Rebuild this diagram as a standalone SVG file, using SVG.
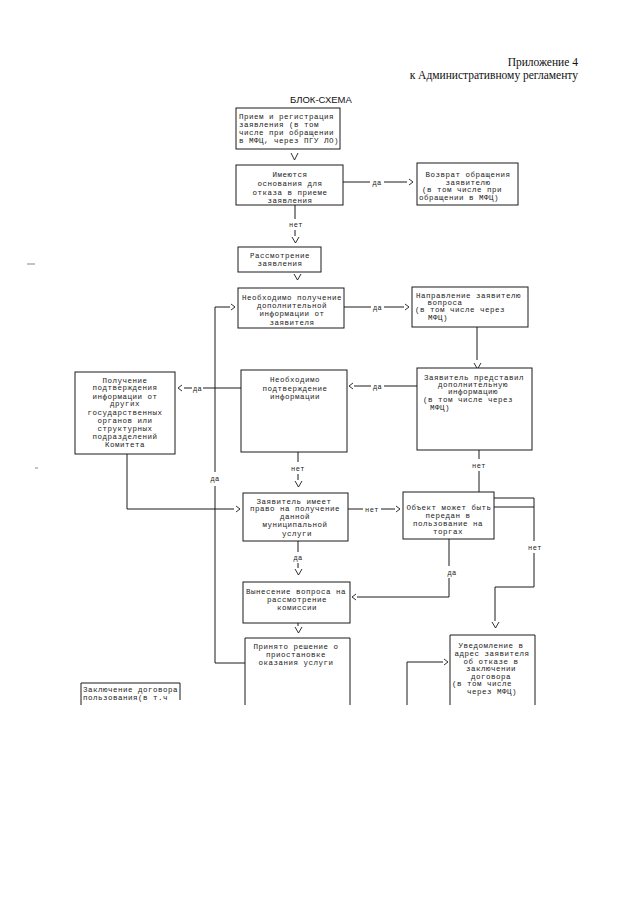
<svg xmlns="http://www.w3.org/2000/svg" width="640" height="905" viewBox="0 0 640 905">
<style>
.bg{fill:#fff}
.box{fill:#fff;stroke:#1a1a1a;stroke-width:1}
.open{fill:none;stroke:#1a1a1a;stroke-width:1}
.ln{fill:none;stroke:#1a1a1a;stroke-width:1}
.ah{fill:none;stroke:#1a1a1a;stroke-width:0.9}
.t{font-family:"Liberation Mono","DejaVu Sans Mono",monospace;font-size:7.5px;letter-spacing:0.5px;fill:#222}
.c{text-anchor:middle}
.lb{font-family:"Liberation Mono","DejaVu Sans Mono",monospace;font-size:7px;letter-spacing:0.4px;fill:#222;text-anchor:middle}
.hd{font-family:"Liberation Serif","Times New Roman",serif;font-size:11.5px;fill:#111;text-anchor:end}
.ttl{font-family:"Liberation Sans",Arial,sans-serif;font-size:9.5px;fill:#111}
.mark{stroke:#888;stroke-width:1}
</style>
<rect class="bg" x="0" y="0" width="640" height="905"/>
<g id="header">
<text class="hd" x="578" y="66">Приложение 4</text>
<text class="hd" x="578" y="79">к Административному регламенту</text>
<text class="ttl" x="290" y="103">БЛОК-СХЕМА</text>
</g>
<g id="marks">
<line class="mark" x1="27" y1="264" x2="35" y2="264"/>
<line class="mark" x1="35" y1="468" x2="38" y2="468"/>
</g>
<g id="connectors">
<path class="ah" d="M291,153 L294.5,160 L298,153"/>
<path class="ln" d="M343,182 H370 M384,182 H407"/>
<path class="ah" d="M409,179 L413,182 L409,185"/>
<text class="lb" x="377" y="184.5">да</text>
<path class="ln" d="M295,205 V219 M295,230 V236"/>
<text class="lb" x="296" y="226.5">нет</text>
<path class="ah" d="M292,237 L295.5,243 L299,237"/>
<path class="ah" d="M294,274 L297.5,280 L301,274"/>
<path class="ln" d="M230,307 H215 V472 M215,486 V663 H245"/>
<path class="ah" d="M231,304 L235,307 L231,310"/>
<text class="lb" x="215" y="480.5">да</text>
<path class="ln" d="M344,307 H371 M384,307 H404"/>
<path class="ah" d="M405,304 L409,307 L405,310"/>
<text class="lb" x="377.5" y="309.5">да</text>
<path class="ln" d="M477,327 V360"/>
<path class="ah" d="M474,363 L477.5,369 L481,363"/>
<path class="ln" d="M417,386 H384 M371,386 H354"/>
<path class="ah" d="M353,383 L349,386 L353,389"/>
<text class="lb" x="377.5" y="388.5">да</text>
<path class="ln" d="M241,388 H203 M192,388 H184"/>
<path class="ah" d="M182,385 L178,388 L182,391"/>
<text class="lb" x="197.5" y="390.5">да</text>
<path class="ln" d="M127,454 V509 H234"/>
<path class="ah" d="M236,506 L240,509 L236,512"/>
<path class="ln" d="M298,452 V462 M298,474 V480"/>
<text class="lb" x="298" y="470.5">нет</text>
<path class="ah" d="M295,481 L298.5,487 L302,481"/>
<path class="ln" d="M348,509 H363 M381,509 H395"/>
<path class="ah" d="M396,506 L400,509 L396,512"/>
<text class="lb" x="372" y="511.5">нет</text>
<path class="ln" d="M479,450 V459 M479,471 V498 H534 V541 M534,553 V587 H495 V621"/>
<text class="lb" x="479" y="467.5">нет</text>
<text class="lb" x="535" y="549.5">нет</text>
<path class="ah" d="M492,622 L495.5,628 L499,622"/>
<path class="ln" d="M494,507 H534"/>
<path class="ln" d="M449,539 V566 M449,578 V597 H357"/>
<text class="lb" x="452" y="574.5">да</text>
<path class="ah" d="M356,594 L352,597 L356,600"/>
<path class="ln" d="M298,541 V552 M298,563 V568"/>
<text class="lb" x="298" y="559.5">да</text>
<path class="ah" d="M295,569 L298.5,575 L302,569"/>
<path class="ln" d="M298,623 V626"/>
<path class="ah" d="M295,627 L298.5,633 L302,627"/>
<path class="ln" d="M407,705 V662 H443"/>
<path class="ah" d="M444,659 L448,662 L444,665"/>
</g>
<g id="n1">
<rect class="box" x="236" y="108" width="104" height="41"/>
<text class="t" x="239"><tspan x="239" y="119">Прием и регистрация</tspan><tspan x="239" y="127">заявления (в том</tspan><tspan x="239" y="135">числе при обращении</tspan><tspan x="239" y="142.5">в МФЦ, через ПГУ ЛО)</tspan></text>
</g>
<g id="n2">
<rect class="box" x="236" y="165" width="107" height="40"/>
<text class="t c"><tspan x="290" y="177">Имеются</tspan><tspan x="290" y="186">основания для</tspan><tspan x="290" y="194.5">отказа в приеме</tspan><tspan x="290" y="203">заявления</tspan></text>
</g>
<g id="n3">
<rect class="box" x="417" y="163" width="101" height="42"/>
<text class="t"><tspan x="468" y="176.5" text-anchor="middle">Возврат обращения</tspan><tspan x="468" y="184.5" text-anchor="middle">заявителю</tspan><tspan x="422" y="191.5">(в том числе при</tspan><tspan x="419" y="199.5">обращении в МФЦ)</tspan></text>
</g>
<g id="n4">
<rect class="box" x="238" y="247" width="83" height="25"/>
<text class="t c"><tspan x="280" y="257.5">Рассмотрение</tspan><tspan x="280" y="265.5">заявления</tspan></text>
</g>
<g id="n5">
<rect class="box" x="238" y="288" width="106" height="40"/>
<text class="t c"><tspan x="292" y="299.5">Необходимо получение</tspan><tspan x="292" y="307.5">дополнительной</tspan><tspan x="292" y="315.5">информации от</tspan><tspan x="292" y="324.5">заявителя</tspan></text>
</g>
<g id="n6">
<rect class="box" x="412" y="287" width="116" height="40"/>
<text class="t"><tspan x="416" y="297.5">Направление заявителю</tspan><tspan x="445" y="304.5" text-anchor="middle">вопроса</tspan><tspan x="415" y="311.5">(в том числе через</tspan><tspan x="428" y="319.5">МФЦ)</tspan></text>
</g>
<g id="n7">
<rect class="box" x="417" y="368" width="115" height="82"/>
<text class="t"><tspan x="424" y="379.5">Заявитель представил</tspan><tspan x="473" y="386.5" text-anchor="middle">дополнительную</tspan><tspan x="473" y="393.5" text-anchor="middle">информацию</tspan><tspan x="423" y="401.5">(в том числе через</tspan><tspan x="430" y="409.5">МФЦ)</tspan></text>
</g>
<g id="n8">
<rect class="box" x="241" y="370" width="106" height="82"/>
<text class="t c"><tspan x="295" y="381.5">Необходимо</tspan><tspan x="295" y="390.5">подтверждение</tspan><tspan x="295" y="398.5">информации</tspan></text>
</g>
<g id="n9">
<rect class="box" x="75" y="372" width="100" height="82"/>
<text class="t c"><tspan x="125" y="382.5">Получение</tspan><tspan x="125" y="389.5">подтверждения</tspan><tspan x="125" y="398.5">информации от</tspan><tspan x="125" y="405.5">других</tspan><tspan x="125" y="414.5">государственных</tspan><tspan x="125" y="422.5">органов или</tspan><tspan x="125" y="430.5">структурных</tspan><tspan x="125" y="438.5">подразделений</tspan><tspan x="125" y="446.5">Комитета</tspan></text>
</g>
<g id="n10">
<rect class="box" x="243" y="493" width="105" height="48"/>
<text class="t c"><tspan x="294" y="503.5">Заявитель имеет</tspan><tspan x="295" y="510.5">право на получение</tspan><tspan x="295" y="518.5">данной</tspan><tspan x="295" y="526.5">муниципальной</tspan><tspan x="297" y="535.5">услуги</tspan></text>
</g>
<g id="n11">
<rect class="box" x="403" y="492" width="91" height="47"/>
<text class="t c"><tspan x="449" y="509.5">Объект может быть</tspan><tspan x="448" y="517.5">передан в</tspan><tspan x="448" y="525.5">пользование на</tspan><tspan x="448" y="533.5">торгах</tspan></text>
</g>
<g id="n13">
<rect class="box" x="243" y="582" width="107" height="41"/>
<text class="t c"><tspan x="296" y="593.5">Вынесение вопроса на</tspan><tspan x="297" y="601.5">рассмотрение</tspan><tspan x="297" y="609.5">комиссии</tspan></text>
</g>
<g id="n14">
<path class="open" d="M245,705 V638 H350 V705"/>
<text class="t c"><tspan x="296" y="649">Принято решение о</tspan><tspan x="296" y="656.5">приостановке</tspan><tspan x="296" y="664.5">оказания услуги</tspan></text>
</g>
<g id="n12">
<path class="open" d="M450,705 V635 H535 V705"/>
<text class="t"><tspan x="491" y="647.5" text-anchor="middle">Уведомление в</tspan><tspan x="492" y="655.5" text-anchor="middle">адрес заявителя</tspan><tspan x="491" y="663.5" text-anchor="middle">об отказе в</tspan><tspan x="491" y="670.5" text-anchor="middle">заключении</tspan><tspan x="491" y="678.5" text-anchor="middle">договора</tspan><tspan x="452" y="685.5">(в том числе</tspan><tspan x="467" y="693.5">через МФЦ)</tspan></text>
</g>
<g id="n15">
<path class="open" d="M81,705 V683 H180 V700"/>
<text class="t"><tspan x="83" y="691.5">Заключение договора</tspan><tspan x="83" y="699.5">пользования(в т.ч</tspan></text>
</g>
</svg>
